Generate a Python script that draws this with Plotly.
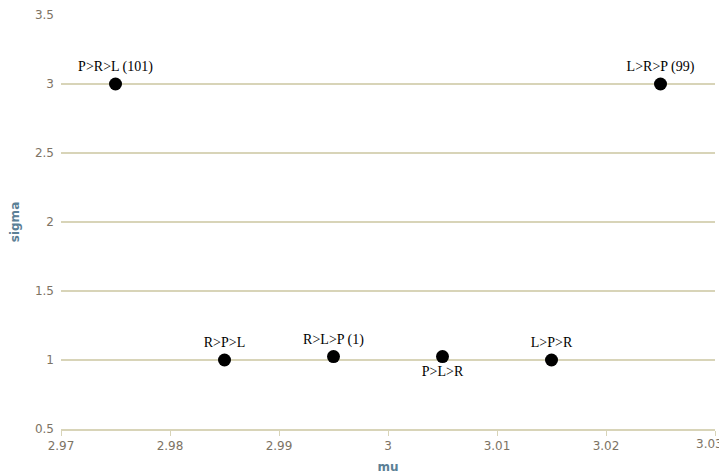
import plotly.graph_objects as go

labels = ["P>R>L (101)", "L>R>P (99)", "R>P>L", "R>L>P (1)", "P>L>R", "L>P>R"]
mu = [2.975, 3.025, 2.985, 2.995, 3.005, 3.015]
sigma = [3.0, 3.0, 1.0, 1.025, 1.025, 1.0]
label_pos = ["top center", "top center", "top center", "top center", "bottom center", "top center"]

x_ticks = [2.97, 2.98, 2.99, 3.0, 3.01, 3.02, 3.03]
x_tick_text = ["2.97", "2.98", "2.99", "3", "3.01", "3.02", "3.03"]
y_ticks = [0.5, 1, 1.5, 2, 2.5, 3, 3.5]
y_tick_text = ["0.5", "1", "1.5", "2", "2.5", "3", "3.5"]

grid_col = "#d8d4b8"
tick_col = "#7d7364"
title_col = "#5b8096"
tick_font = dict(family="DejaVu Sans", size=12, color=tick_col)

fig = go.Figure(go.Scatter(
    x=mu, y=sigma, mode="markers+text", text=labels, textposition=label_pos,
    marker=dict(color="black", size=13),
    textfont=dict(family="Liberation Serif", size=14, color="black"),
    cliponaxis=False,
))

# page body has an 8px default margin, so the figure is sized to fit the 727x475 window
fig.update_layout(
    width=719, height=467,
    margin=dict(l=53, r=12, t=7, b=46, autoexpand=False),
    paper_bgcolor="white", plot_bgcolor="white",
    showlegend=False,
    font=dict(family="DejaVu Sans", size=12, color=tick_col),
)
# the last x tick label runs past the page edge, where plotly would drop it; draw it as an annotation
fig.update_xaxes(
    automargin=False,
    range=[2.97, 3.03], tickvals=x_ticks, ticktext=x_tick_text[:-1] + [""],
    showgrid=False, zeroline=False,
    showline=True, linecolor=grid_col, linewidth=2,
    ticks="outside", tickcolor=grid_col, ticklen=5, tickwidth=1,
    tickfont=tick_font,
    title=dict(text="<b>mu</b>", font=dict(family="DejaVu Sans", size=12, color=title_col), standoff=10),
)
fig.add_annotation(
    x=x_ticks[-1], xref="x", y=0, yref="paper", yanchor="top", xanchor="right",
    xshift=10, yshift=-6, text=x_tick_text[-1], showarrow=False, font=tick_font,
)
fig.update_yaxes(
    automargin=False,
    range=[0.5, 3.5], tickvals=y_ticks, ticktext=y_tick_text,
    showgrid=True, gridcolor=grid_col, gridwidth=1.5, zeroline=False,
    showline=False, ticks="", ticklabelstandoff=6,
    tickfont=tick_font,
    title=dict(text="<b>sigma</b>", font=dict(family="DejaVu Sans", size=12, color=title_col), standoff=18),
)

fig.write_html("out.html")
